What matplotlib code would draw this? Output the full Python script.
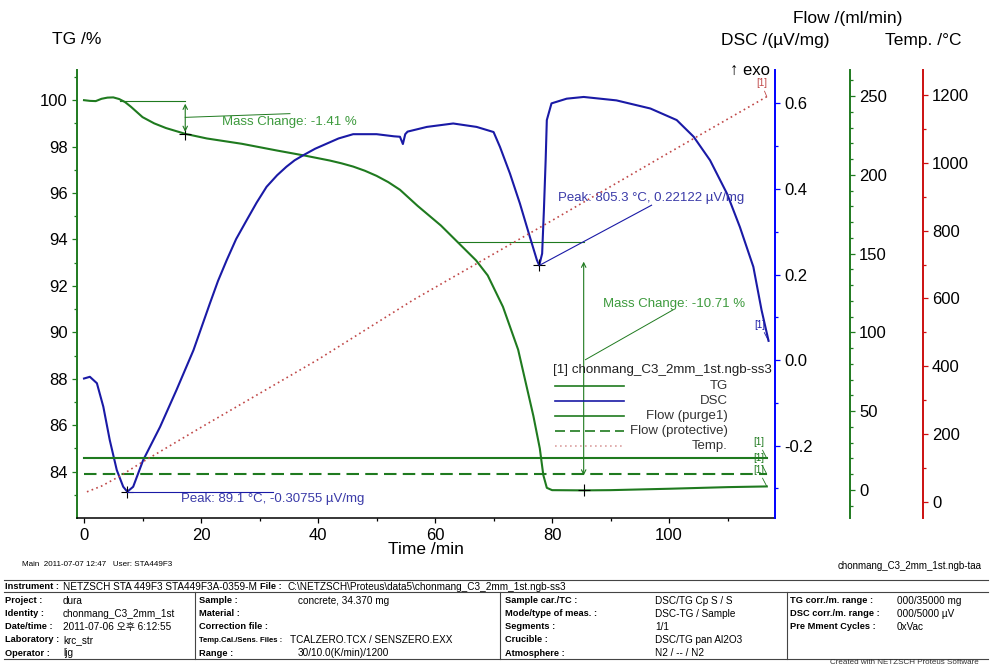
import matplotlib.pyplot as plt
from matplotlib.lines import Line2D
from matplotlib.ticker import FormatStrFormatter

plt.rcParams['font.family'] = ['Liberation Sans', 'DejaVu Sans', 'Noto Sans CJK KR']
plt.rcParams['axes.unicode_minus'] = False

# TG /%
tg_time = [0, 1, 2, 3, 4, 5, 6, 7, 8, 10, 12, 14, 17.3, 21, 27, 33, 38, 42, 44, 46, 48,
           50, 52, 54, 57, 61, 64, 67, 69, 71.6, 74.2, 76.8, 77.9, 78.5, 79.1, 80, 85.4,
           90, 100, 110, 116.7]
tg_mass = [100.0, 99.97, 99.96, 100.06, 100.11, 100.12, 100.05, 99.92, 99.72, 99.27,
           99.0, 98.8, 98.55, 98.35, 98.12, 97.83, 97.6, 97.4, 97.28, 97.14, 96.96,
           96.74, 96.47, 96.14, 95.45, 94.6, 93.85, 93.1, 92.45, 91.1, 89.25, 86.4, 85.0,
           83.85, 83.3, 83.2, 83.19, 83.2, 83.26, 83.33, 83.36]

# DSC /(uV/mg)
dsc_time = [0, 1, 2.2, 3.3, 4.4, 5.6, 6.7, 7.4, 8.4, 10.1, 13, 15.8, 18.7, 21.5, 22.9,
            24.4, 26, 27.8, 29.5, 31.2, 33, 34.6, 36, 37.5, 39.5, 41.5, 43.5, 46, 50, 53,
            54.0, 54.5, 54.9, 55.3, 58.6, 63.1, 67.1, 70, 71.1, 72.8, 74.5, 76.2, 77.4,
            77.8, 78.3, 78.6, 78.9, 79.1, 79.9, 82.5, 85.4, 91, 96.8, 101.3, 104.2, 107,
            109.9, 112.1, 114.4, 115.8, 117]
dsc_signal = [-0.043, -0.039, -0.054, -0.109, -0.187, -0.257, -0.296, -0.30755, -0.296,
              -0.234, -0.156, -0.070, 0.023, 0.132, 0.185, 0.234, 0.283, 0.327, 0.368,
              0.405, 0.432, 0.452, 0.467, 0.479, 0.494, 0.506, 0.518, 0.528, 0.528,
              0.523, 0.522, 0.505, 0.528, 0.534, 0.545, 0.553, 0.545, 0.533, 0.498,
              0.436, 0.366, 0.288, 0.234, 0.22122, 0.249, 0.350, 0.467, 0.561, 0.600,
              0.611, 0.615, 0.607, 0.588, 0.561, 0.522, 0.467, 0.389, 0.311, 0.218,
              0.117, 0.045]

# Temp. /°C
temp_time = [0.5, 3, 6, 10, 20, 40, 56.3, 80, 100, 116.7]
temp_value = [30, 47, 75, 118, 220, 420, 596, 830, 1030, 1195]

# Flow /(ml/min)
flow_time = [0, 116.7]
flow_purge = [20, 20]
flow_protective = [10, 10]

# evaluated DSC peaks
peak_time = [7.4, 77.8]
peak_temp = [89.1, 805.3]
peak_dsc = [-0.30755, 0.22122]

# evaluated mass steps
step_from = [6.2, 64.0]
step_at = [17.3, 85.4]
step_level = [99.96, 93.90]
step_change = [-1.41, -10.71]

W, H = 993, 667
GREEN = '#1f7a1f'
GREEN_TXT = '#3d9a3d'
BLUE = '#1a1aa6'
BLUE_TXT = '#3a3aa8'
RED = '#cc1010'
TEMP_C = '#c04848'


def fx(x):
    return x / W


def fy(y):
    return 1 - y / H


fig = plt.figure(figsize=(W / 100, H / 100), dpi=100)
ax = fig.add_axes([fx(77), fy(518), 698 / W, 448 / H])
ax_dsc = ax.twinx()
ax_flow = ax.twinx()
ax_temp = ax.twinx()

ax.set_xlim(-1.2, 118.1)
ax.set_ylim(82.0, 101.3)
ax_dsc.set_ylim(-0.369, 0.678)
ax_flow.set_ylim(-17.8, 266.5)
ax_temp.set_ylim(-47.2, 1273.6)

# spines
ax.spines['top'].set_visible(False)
ax.spines['right'].set_visible(False)
ax.spines['left'].set_color(GREEN)
ax.spines['left'].set_linewidth(1.4)
ax.spines['bottom'].set_linewidth(1.1)
for a, col, off in [(ax_dsc, '#0000ff', 0), (ax_flow, GREEN, 54), (ax_temp, RED, 106.5)]:
    for s in ['top', 'left', 'bottom']:
        a.spines[s].set_visible(False)
    a.spines['right'].set_position(('outward', off))
    a.spines['right'].set_color(col)
    a.spines['right'].set_linewidth(1.4)
    a.tick_params(axis='y', which='both', color=col, labelcolor='black', labelsize=12,
                  width=0.9, pad=3)
    a.tick_params(axis='y', which='major', length=3.5)
    a.tick_params(axis='y', which='minor', length=2.2)

ax.set_xticks(range(0, 101, 20))
ax.set_xticks(range(10, 111, 20), minor=True)
ax.set_yticks(range(84, 101, 2))
ax.set_yticks(range(83, 102, 2), minor=True)
ax.tick_params(axis='x', which='both', labelsize=12, width=0.9, pad=4)
ax.tick_params(axis='y', which='both', color=GREEN, labelsize=12, width=0.9, pad=3)
ax.tick_params(which='major', length=3.5)
ax.tick_params(which='minor', length=2.2)

ax_dsc.set_yticks([-0.2, 0.0, 0.2, 0.4, 0.6])
ax_dsc.set_yticks([-0.3, -0.1, 0.1, 0.3, 0.5], minor=True)
ax_dsc.yaxis.set_major_formatter(FormatStrFormatter('%.1f'))
ax_flow.set_yticks(range(0, 251, 50))
ax_flow.set_yticks([v for v in range(-10, 261, 10) if v % 50], minor=True)
ax_temp.set_yticks(range(0, 1201, 200))
ax_temp.set_yticks(range(100, 1201, 200), minor=True)

# curves
ax.plot(tg_time, tg_mass, color=GREEN, lw=1.5)
ax_dsc.plot(dsc_time, dsc_signal, color=BLUE, lw=1.5)
ax_flow.plot(flow_time, flow_purge, color=GREEN, lw=1.5)
ax_flow.plot(flow_time, flow_protective, color=GREEN, lw=1.5, ls=(0, (6, 3)))
ax_temp.plot(temp_time, temp_value, color=TEMP_C, lw=1.2, ls=(0, (1, 2)))

# curve tags
tag = dict(textcoords='offset points', fontsize=7, ha='center', va='bottom',
           arrowprops=dict(arrowstyle='-', lw=0.6, shrinkA=0, shrinkB=0))
ax.annotate('[1]', xy=(tg_time[-1], tg_mass[-1]), xytext=(-6, 8), color=GREEN,
            **{**tag, 'arrowprops': {**tag['arrowprops'], 'color': GREEN}})
ax_flow.annotate('[1]', xy=(flow_time[-1], flow_purge[-1]), xytext=(-6, 8), color=GREEN,
                 **{**tag, 'arrowprops': {**tag['arrowprops'], 'color': GREEN}})
ax_flow.annotate('[1]', xy=(flow_time[-1], flow_protective[-1]), xytext=(-6, 8),
                 color=GREEN, **{**tag, 'arrowprops': {**tag['arrowprops'], 'color': GREEN}})
ax_dsc.annotate('[1]', xy=(dsc_time[-1], dsc_signal[-1]), xytext=(-6, 8), color=BLUE,
                **{**tag, 'arrowprops': {**tag['arrowprops'], 'color': BLUE}})
ax_temp.annotate('[1]', xy=(temp_time[-1], temp_value[-1]), xytext=(-4, 6), color=TEMP_C,
                 **{**tag, 'arrowprops': {**tag['arrowprops'], 'color': TEMP_C}})

# peak evaluations
ax_dsc.plot(peak_time[0], peak_dsc[0], marker='+', color='black', ms=9, mew=0.8)
ax_dsc.plot([peak_time[0], 32.3], [peak_dsc[0], peak_dsc[0]], color=BLUE, lw=0.8)
ax_dsc.text(16.6, -0.331, 'Peak: %.1f \u00b0C, %.5f \u00b5V/mg' % (peak_temp[0], peak_dsc[0]),
            color=BLUE_TXT, fontsize=9.5, ha='left', va='baseline')
ax_dsc.plot(peak_time[1], peak_dsc[1], marker='+', color='black', ms=9, mew=0.8)
ax_dsc.plot([peak_time[1], 97.0], [peak_dsc[1], 0.362], color=BLUE, lw=0.8)
ax_dsc.text(81.0, 0.372, 'Peak: %.1f \u00b0C, %.5f \u00b5V/mg' % (peak_temp[1], peak_dsc[1]),
            color=BLUE_TXT, fontsize=9.5, ha='left', va='baseline')

# mass change evaluations
leaders = [((17.3, 99.26), (35.2, 99.42), (23.6, 98.91)),
           ((85.7, 88.82), (100.7, 90.97), (88.7, 91.11))]
for i in range(2):
    lvl, end = step_level[i], step_level[i] + step_change[i]
    ax.plot([step_from[i], step_at[i]], [lvl, lvl], color=GREEN, lw=0.8)
    span = lvl - end
    ax.annotate('', xy=(step_at[i], end + 0.06 * span), xytext=(step_at[i], lvl - 0.08 * span),
                arrowprops=dict(arrowstyle='<->', color=GREEN, lw=0.8, shrinkA=0,
                                shrinkB=0, mutation_scale=8))
    ax.plot(step_at[i], end, marker='+', color='black', ms=9, mew=0.8)
    (x0, y0), (x1, y1), (tx, ty) = leaders[i]
    ax.plot([x0, x1], [y0, y1], color=GREEN, lw=0.7)
    ax.text(tx, ty, 'Mass Change: %.2f %%' % step_change[i], color=GREEN_TXT,
            fontsize=9.5, ha='left', va='baseline')

# legend
fig.text(fx(553), fy(370), '[1] chonmang_C3_2mm_1st.ngb-ss3', fontsize=9.6,
         color='#222222', ha='left', va='center')
legend_rows = [('TG', GREEN, '-', 1.2), ('DSC', BLUE, '-', 1.2),
               ('Flow (purge1)', GREEN, '-', 1.2), ('Flow (protective)', GREEN, (0, (6, 3)), 1.2),
               ('Temp.', '#dba0a0', (0, (1, 2)), 1.2)]
for k, (name, col, ls, lw) in enumerate(legend_rows):
    yy = 385.7 + 15 * k
    fig.add_artist(Line2D([fx(555), fx(624)], [fy(yy), fy(yy)], color=col, ls=ls, lw=lw,
                          transform=fig.transFigure))
    fig.text(fx(728), fy(yy), name, fontsize=9.5, color='#333333', ha='right', va='center')

# axis titles
fig.text(fx(52), fy(40), 'TG /%', fontsize=12.5, ha='left', va='center')
fig.text(fx(848), fy(18), 'Flow /(ml/min)', fontsize=12.5, ha='center', va='center')
fig.text(fx(775), fy(40), 'DSC /(\u00b5V/mg)', fontsize=12.5, ha='center', va='center')
fig.text(fx(923), fy(40), 'Temp. /\u00b0C', fontsize=12.5, ha='center', va='center')
fig.text(fx(770), fy(70), '\u2191 exo', fontsize=12, ha='right', va='center')
fig.text(fx(426), fy(550), 'Time /min', fontsize=12.5, ha='center', va='center')

# footer
fig.text(fx(22), fy(564), 'Main  2011-07-07 12:47   User: STA449F3', fontsize=5.8,
         ha='left', va='center')
fig.text(fx(982), fy(566), 'chonmang_C3_2mm_1st.ngb-taa', fontsize=7,
         ha='right', va='center')

for yy in [580, 592, 659]:
    fig.add_artist(Line2D([fx(4), fx(988)], [fy(yy), fy(yy)], color='#444444', lw=0.8,
                          transform=fig.transFigure))
for xx in [195, 500, 787]:
    fig.add_artist(Line2D([fx(xx), fx(xx)], [fy(592), fy(659)], color='#444444', lw=0.8,
                          transform=fig.transFigure))

vfs = 7.2   # values
lfs = 6.7   # bold field names
fig.text(fx(5), fy(586.5), 'Instrument :', fontsize=lfs, weight='bold', va='center')
fig.text(fx(63), fy(586.5), 'NETZSCH STA 449F3 STA449F3A-0359-M', fontsize=vfs, va='center')
fig.text(fx(260), fy(586.5), 'File :', fontsize=lfs, weight='bold', va='center')
fig.text(fx(287), fy(586.5), 'C:\\NETZSCH\\Proteus\\data5\\chonmang_C3_2mm_1st.ngb-ss3',
         fontsize=vfs, va='center')

row_y = [600.5, 613.7, 626.8, 640.0, 653.0]
columns = [
    (5, 63, ['Project :', 'Identity :', 'Date/time :', 'Laboratory :', 'Operator :'],
     ['dura', 'chonmang_C3_2mm_1st', '2011-07-06 \uc624\ud6c4 6:12:55', 'krc_str', 'ljg']),
    (199, 298, ['Sample :', 'Material :', 'Correction file :', '', 'Range :'],
     ['concrete, 34.370 mg', '', '', '', '30/10.0(K/min)/1200']),
    (505, 655, ['Sample car./TC :', 'Mode/type of meas. :', 'Segments :', 'Crucible :', 'Atmosphere :'],
     ['DSC/TG Cp S / S', 'DSC-TG / Sample', '1/1', 'DSC/TG pan Al2O3', 'N2 / -- / N2']),
    (790, 897, ['TG corr./m. range :', 'DSC corr./m. range :', 'Pre Mment Cycles :', '', ''],
     ['000/35000 mg', '000/5000 \u00b5V', '0xVac', '', '']),
]
for lx, vx, labels, values in columns:
    for yy, lab, val in zip(row_y, labels, values):
        if lab:
            fig.text(fx(lx), fy(yy), lab, fontsize=lfs, weight='bold', va='center')
        if val:
            fig.text(fx(vx), fy(yy), val, fontsize=vfs, va='center')
fig.text(fx(199), fy(row_y[3]), 'Temp.Cal./Sens. Files :', fontsize=5.6, weight='bold',
         va='center')
fig.text(fx(290), fy(row_y[3]), 'TCALZERO.TCX / SENSZERO.EXX', fontsize=vfs, va='center')
fig.text(fx(830), fy(666.5), 'Created with NETZSCH Proteus Software', fontsize=5.8,
         ha='left', va='bottom', color='#333333')

fig.savefig('out.png', dpi=100)
